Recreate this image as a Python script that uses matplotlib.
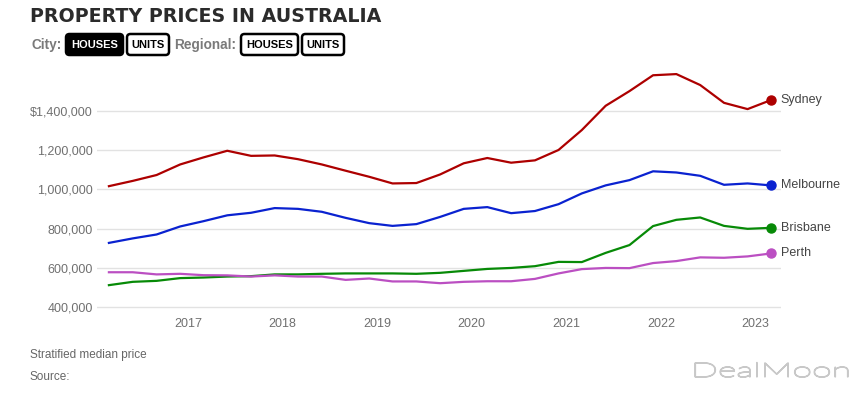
import numpy as np
import pandas as pd
import matplotlib
matplotlib.use('Agg')
import matplotlib.pyplot as plt
import matplotlib.dates as mdates
from matplotlib.patches import FancyBboxPatch, PathPatch
from matplotlib.textpath import TextPath
from matplotlib.font_manager import FontProperties
from matplotlib.transforms import IdentityTransform, Affine2D
from matplotlib.ticker import FuncFormatter

# quarterly stratified median house prices, Mar 2016 - Mar 2023
dates = pd.date_range('2016-03-01', '2023-03-01', freq='QS-MAR')

sydney = [1017000, 1044000, 1074000, 1128000, 1164000, 1198000, 1172000, 1174000,
          1155000, 1128000, 1096000, 1065000, 1031000, 1033000, 1077000, 1134000,
          1161000, 1137000, 1149000, 1202000, 1304000, 1428000, 1503000, 1584000,
          1590000, 1534000, 1443000, 1411000, 1457000]
melbourne = [727000, 750000, 770000, 811000, 838000, 868000, 881000, 905000,
             901000, 886000, 855000, 828000, 814000, 823000, 860000, 901000,
             910000, 879000, 890000, 925000, 980000, 1021000, 1048000, 1093000,
             1087000, 1070000, 1024000, 1031000, 1021000]
brisbane = [511000, 528000, 533000, 547000, 550000, 555000, 557000, 566000,
            566000, 569000, 571000, 571000, 571000, 569000, 574000, 584000,
            594000, 599000, 608000, 630000, 629000, 676000, 716000, 813000,
            845000, 857000, 814000, 799000, 804000]
perth = [577000, 577000, 566000, 569000, 562000, 561000, 555000, 561000,
         555000, 555000, 538000, 545000, 530000, 530000, 521000, 528000,
         531000, 531000, 543000, 571000, 593000, 599000, 598000, 624000,
         634000, 653000, 651000, 658000, 673000]

cities = ['Sydney', 'Melbourne', 'Brisbane', 'Perth']
series = [sydney, melbourne, brisbane, perth]
colors = ['#ad0000', '#0a22d0', '#078a07', '#bb4fc2']

yticks = [400000, 600000, 800000, 1000000, 1200000, 1400000]
years = [2017, 2018, 2019, 2020, 2021, 2022, 2023]

num_font = ['Liberation Sans Narrow', 'Liberation Sans', 'DejaVu Sans']
W, H = 865, 395

fig = plt.figure(figsize=(W/100, H/100), dpi=100)
ax = fig.add_axes([97/W, 1-310/H, 684/W, 250/H])

for name, vals, c in zip(cities, series, colors):
    ax.plot(dates, vals, color=c, lw=1.6, solid_joinstyle='round')
    ax.plot(dates[-1], vals[-1], 'o', color=c, ms=6.5)
    ax.annotate(name, (dates[-1], vals[-1]), xytext=(7, 0), textcoords='offset points',
                va='center', ha='left', fontsize=9, color='#444444', family=num_font)

ax.set_ylim(384000, 1662000)
ax.set_xlim(pd.Timestamp('2016-01-15'), pd.Timestamp('2023-04-09'))
ax.set_yticks(yticks)
ax.yaxis.set_major_formatter(FuncFormatter(
    lambda v, p: ('$' if v == max(yticks) else '') + f'{int(v):,}'))
ax.set_xticks([pd.Timestamp(f'{y}-01-01') for y in years])
ax.xaxis.set_major_formatter(mdates.DateFormatter('%Y'))
ax.grid(axis='y', color='#e2e2e2', lw=1)
ax.set_axisbelow(True)
for s in ax.spines.values():
    s.set_visible(False)
ax.tick_params(length=0, labelcolor='#707070')
ax.tick_params(axis='y', labelsize=9, pad=3)
ax.tick_params(axis='x', labelsize=9, pad=6)
for lab in ax.get_xticklabels() + ax.get_yticklabels():
    lab.set_family(num_font)

# header
fig.text(30/W, 1-16/H, 'PROPERTY PRICES IN AUSTRALIA', fontsize=13.7, fontweight='heavy',
         color='#2b2b2b', va='center', ha='left', family='DejaVu Sans')

row_y = 44.5  # px from top
def label(x, s):
    fig.text(x/W, 1-row_y/H, s, fontsize=9.8, fontweight='bold', color='#7a7a7a',
             va='center', ha='left', family='Liberation Sans')

def button(x0, x1, s, filled):
    # box drawn in pixel coordinates (origin bottom left)
    box = FancyBboxPatch((x0, H-55), x1-x0, 21, boxstyle='round,pad=0,rounding_size=3.5',
                         fc='black' if filled else 'white', ec='black', lw=1.8,
                         transform=IdentityTransform())
    fig.patches.append(box)
    fig.text((x0+x1)/2/W, 1-row_y/H, s, fontsize=8, fontweight='bold',
             color='white' if filled else 'black', va='center', ha='center',
             family='Liberation Sans')

label(31, 'City:')
button(66, 123, 'HOUSES', True)
button(127, 169, 'UNITS', False)
label(174, 'Regional:')
button(241, 298, 'HOUSES', False)
button(302, 344, 'UNITS', False)

# footer
fig.text(30/W, 1-355/H, 'Stratified median price', fontsize=8.5, color='#666666',
         va='center', ha='left', family=num_font)
fig.text(30/W, 1-377/H, 'Source:', fontsize=8.5, color='#666666',
         va='center', ha='left', family=num_font)

# watermark, stretched to the reference's wide letterforms
tp = TextPath((0, 0), 'DealMoon', size=1, prop=FontProperties(family='Lato', weight='light'))
ext = tp.get_extents()
sx = 153 / ext.width
sy = 14.5 / 0.72
wm_tr = Affine2D().translate(-ext.x0, 0).scale(sx, sy).translate(695, H-377)
wm = PathPatch(wm_tr.transform_path(tp), fc='white', ec='#c8c8c8', lw=1.0,
               transform=IdentityTransform())
fig.patches.append(wm)

fig.savefig('out.png', dpi=100)
